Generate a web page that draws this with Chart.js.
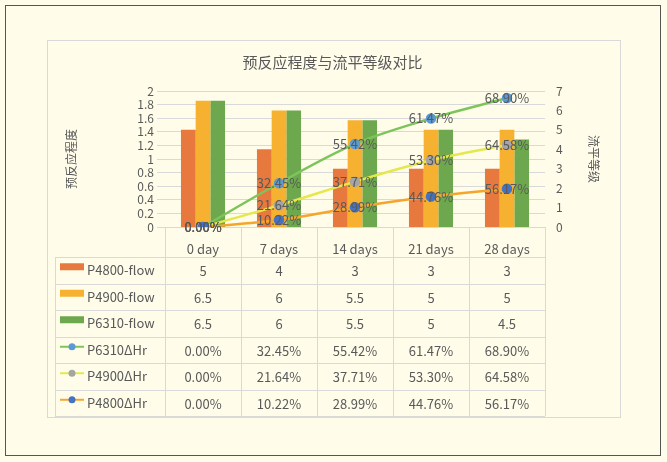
<!DOCTYPE html>
<html><head><meta charset="utf-8">
<script src="https://cdn.jsdelivr.net/npm/chart.js@4"></script>
<style>
html,body{margin:0;padding:0;background:#fffdea;}
#wrap{position:relative;width:667px;height:462px;}
</style></head>
<body><div id="wrap"><canvas id="c" width="667" height="462"></canvas></div>
<script>
const days = ['0 day', '7 days', '14 days', '21 days', '28 days'];
const p4800Flow = [5, 4, 3, 3, 3];
const p4900Flow = [6.5, 6, 5.5, 5, 5];
const p6310Flow = [6.5, 6, 5.5, 5, 4.5];
const p6310Hr = [0, 0.3245, 0.5542, 0.6147, 0.6890];
const p4900Hr = [0, 0.2164, 0.3771, 0.5330, 0.6458];
const p4800Hr = [0, 0.1022, 0.2899, 0.4476, 0.5617];

const FONT = '"Noto Sans CJK SC","Noto Sans",sans-serif';
const pct = v => (v * 100).toFixed(2) + '%';

const frame = {
  id: 'frame',
  beforeDraw(ch) {
    const c = ch.ctx;
    c.save();
    c.strokeStyle = '#555'; c.lineWidth = 1;
    c.strokeRect(5.5, 5.5, 655, 450);
    c.strokeStyle = '#d9d9d9';
    c.strokeRect(47.5, 40.5, 573, 377);
    c.restore();
  }
};

// label on each line point + data table under the plot
const extras = {
  id: 'extras',
  afterDatasetsDraw(ch) {
    const c = ch.ctx;
    c.save();
    c.font = '13px ' + FONT;
    c.fillStyle = '#595959';
    c.textAlign = 'center'; c.textBaseline = 'middle';
    ch.data.datasets.forEach((ds, i) => {
      if (ds.type !== 'line') return;
      ch.getDatasetMeta(i).data.forEach((pt, j) => {
        c.fillText(pct(ds.data[j]), pt.x, pt.y);
      });
    });
    c.restore();
  },
  afterDraw(ch) {
    const c = ch.ctx, x = ch.scales.x, a = ch.chartArea;
    const step = x.getPixelForValue(1) - x.getPixelForValue(0);
    const left = 55, top = a.bottom, headH = 30, rowH = 26.5;
    const rows = [
      ['P4800-flow', p4800Flow, '#e8793e', 'bar', v => v],
      ['P4900-flow', p4900Flow, '#f5b12f', 'bar', v => v],
      ['P6310-flow', p6310Flow, '#6ea84e', 'bar', v => v],
      ['P6310ΔHr', p6310Hr, '#7cc55a', '#5b9bd5', pct],
      ['P4900ΔHr', p4900Hr, '#e5e84a', '#a5a5a5', pct],
      ['P4800ΔHr', p4800Hr, '#f5a52c', '#4472c4', pct]
    ];
    const right = a.left + step * days.length;
    const bottom = top + headH + rowH * rows.length;
    c.save();
    c.strokeStyle = '#d9d9d9'; c.lineWidth = 1;
    for (let k = 0; k <= days.length; k++) {
      const xx = Math.round(a.left + step * k) + 0.5;
      c.beginPath(); c.moveTo(xx, top); c.lineTo(xx, bottom); c.stroke();
    }
    c.beginPath(); c.moveTo(left + 0.5, top + headH); c.lineTo(left + 0.5, bottom); c.stroke();
    for (let r = 0; r <= rows.length; r++) {
      const yy = Math.round(top + headH + rowH * r) + 0.5;
      c.beginPath(); c.moveTo(left, yy); c.lineTo(right, yy); c.stroke();
    }
    c.font = '13px ' + FONT; c.textBaseline = 'middle';
    rows.forEach((row, r) => {
      const cy = top + headH + rowH * r + rowH / 2;
      if (row[3] === 'bar') {
        c.fillStyle = row[2]; c.fillRect(left + 5, cy - 7, 24, 7);
      } else {
        c.strokeStyle = row[2]; c.lineWidth = 2;
        c.beginPath(); c.moveTo(left + 5, cy - 3); c.lineTo(left + 29, cy - 3); c.stroke();
        c.fillStyle = row[3]; c.beginPath(); c.arc(left + 17, cy - 3, 3.5, 0, Math.PI * 2); c.fill();
      }
      c.fillStyle = '#595959'; c.textAlign = 'left';
      c.fillText(row[0], left + 32, cy);
      c.textAlign = 'center';
      row[1].forEach((v, j) => c.fillText(row[4](v), x.getPixelForValue(j), cy + 1));
    });
    c.restore();
  }
};

const lineDs = (label, data, color, pt) => ({
  type: 'line', label, data, yAxisID: 'y', order: 0,
  borderColor: color, borderWidth: 2.5, tension: 0.4, cubicInterpolationMode: 'monotone',
  pointBackgroundColor: pt, pointBorderColor: pt, pointRadius: 4
});
const barDs = (label, data, color) => ({
  type: 'bar', label, data, yAxisID: 'y1', order: 1,
  backgroundColor: color, barPercentage: 1, categoryPercentage: 0.58
});

new Chart(document.getElementById('c'), {
  data: {
    labels: days,
    datasets: [
      lineDs('P4800ΔHr', p4800Hr, '#f5a52c', '#4472c4'),
      lineDs('P4900ΔHr', p4900Hr, '#e5e84a', '#a5a5a5'),
      lineDs('P6310ΔHr', p6310Hr, '#7cc55a', '#5b9bd5'),
      barDs('P4800-flow', p4800Flow, '#e8793e'),
      barDs('P4900-flow', p4900Flow, '#f5b12f'),
      barDs('P6310-flow', p6310Flow, '#6ea84e')
    ]
  },
  options: {
    responsive: false, animation: false,
    layout: { padding: { left: 60, right: 62, top: 53, bottom: 205 } },
    plugins: {
      legend: { display: false }, tooltip: { enabled: false },
      title: { display: true, text: '预反应程度与流平等级对比', color: '#595959',
        font: { family: FONT, size: 15, weight: 'normal' }, padding: { top: 0, bottom: 20 } }
    },
    scales: {
      x: {
        grid: { display: false }, border: { display: false },
        ticks: { color: '#595959', font: { family: FONT, size: 13 }, padding: 6 },
        afterFit: s => { s.height = 30; }
      },
      y: {
        stacked: true, min: 0, max: 2,
        ticks: { stepSize: 0.2, autoSkip: false, color: '#595959', font: { family: FONT, size: 12 }, callback: v => +v.toFixed(1) },
        grid: { color: '#d9d9d9' }, border: { display: false },
        title: { display: true, text: '预反应程度', color: '#595959', font: { family: FONT, size: 12 } },
        afterFit: s => { s.width = 105; }
      },
      y1: {
        position: 'right', min: 0, max: 7,
        ticks: { stepSize: 1, autoSkip: false, color: '#595959', font: { family: FONT, size: 12 } },
        grid: { display: false }, border: { display: false },
        title: { display: true, text: '流平等级', color: '#595959', font: { family: FONT, size: 12 } },
        afterFit: s => { s.width = 60; }
      }
    }
  },
  plugins: [frame, extras]
});
</script></body></html>
